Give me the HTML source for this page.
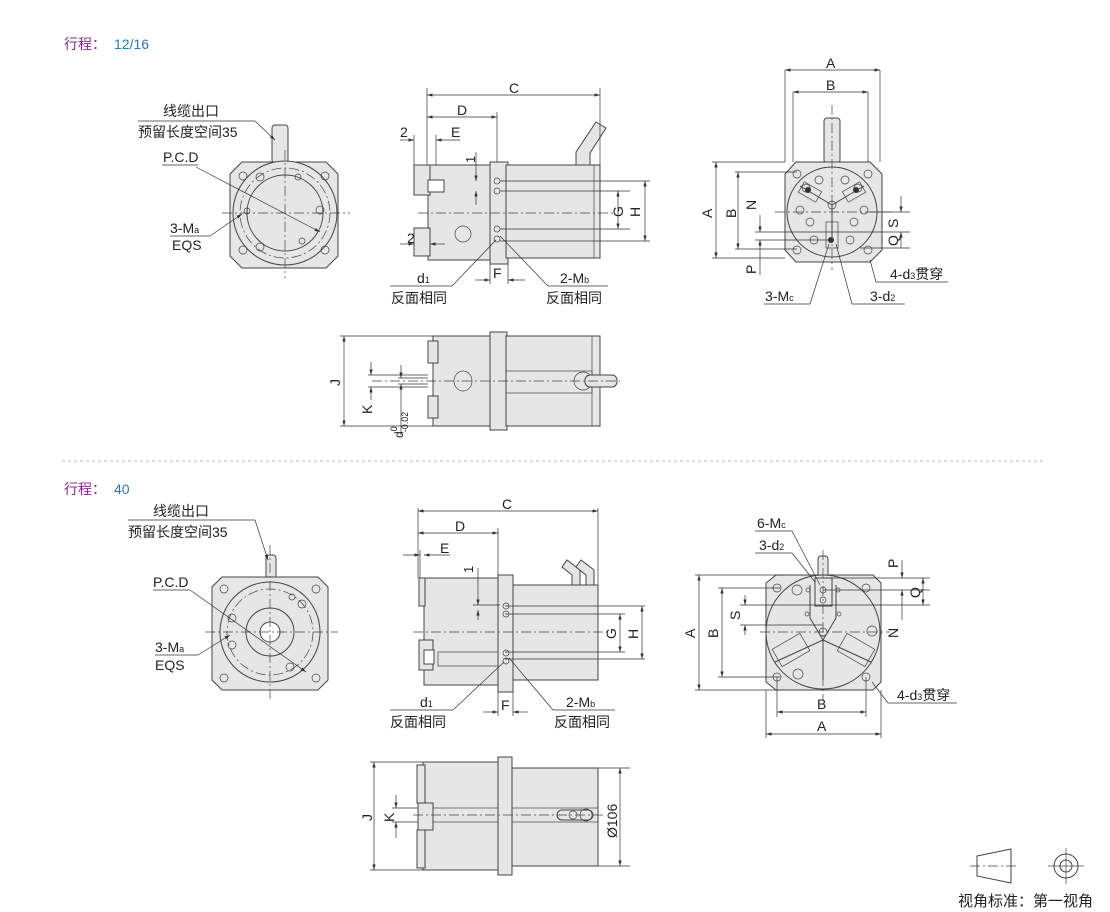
<!DOCTYPE html>
<html><head><meta charset="utf-8"><style>
html,body{margin:0;padding:0;background:#fff;}
svg{display:block;font-family:"Liberation Sans","Noto Sans CJK SC",sans-serif;}
.b{fill:#e6e6e6;stroke:#444;stroke-width:1}
.w{fill:#fff;stroke:#444;stroke-width:1}
.n{fill:none;stroke:#444;stroke-width:1}
.t{fill:none;stroke:#444;stroke-width:.7}
.c{fill:none;stroke:#444;stroke-width:.7;stroke-dasharray:10 3 2 3}
.d{fill:none;stroke:#333;stroke-width:.7}
text{font-size:14px;fill:#222}
.s{font-size:13px}
</style></head><body>
<svg width="1110" height="912" viewBox="0 0 1110 912">
<defs>
<marker id="a" viewBox="0 0 10 6" refX="10" refY="3" markerWidth="8" markerHeight="5" orient="auto-start-reverse"><path d="M0,0L10,3L0,6z" fill="#333"/></marker>
</defs>
<text x="64" y="49" style="fill:#8b2a8b;font-size:14px">行程：</text><text x="114" y="49" style="fill:#2a7ab0;font-size:14px">12/16</text>
<line x1="62" y1="461" x2="1045" y2="461" stroke="#bbb" stroke-dasharray="3 3"/>
<text x="64" y="494" style="fill:#8b2a8b;font-size:14px">行程：</text><text x="114" y="494" style="fill:#2a7ab0;font-size:14px">40</text>

<!-- ===== TOP FRONT VIEW ===== -->
<rect class="b" x="272" y="125" width="16" height="38" rx="3"/>
<path class="b" d="M242,162H326L338,174V256L326,268H242L230,256V174Z"/>
<circle class="w" cx="285" cy="213" r="52" style="fill:#e6e6e6"/>
<circle class="c" cx="285" cy="213" r="45"/>
<circle class="w" cx="285" cy="213" r="38" style="fill:#e6e6e6"/>
<g class="t"><circle cx="243" cy="176" r="4"/><circle cx="325" cy="176" r="4"/><circle cx="243" cy="250" r="4"/><circle cx="325" cy="250" r="4"/>
<circle cx="260" cy="177" r="4"/><circle cx="260" cy="247" r="4"/><circle cx="320" cy="210" r="4"/><circle cx="247" cy="211" r="3"/><circle cx="298" cy="177" r="3"/><circle cx="302" cy="241" r="3"/></g>
<line class="c" x1="222" y1="213" x2="350" y2="213"/><line class="c" x1="285" y1="150" x2="285" y2="278"/>
<line class="d" x1="196" y1="167" x2="320" y2="232" marker-end="url(#a)"/>
<line class="d" x1="162" y1="165" x2="198" y2="165"/>
<text x="163" y="162">P.C.D</text>
<text x="163" y="116">线缆出口</text><text x="138" y="137">预留长度空间35</text>
<line class="d" x1="138" y1="121" x2="255" y2="121"/><line class="d" x1="255" y1="121" x2="275" y2="140" marker-end="url(#a)"/>
<line class="d" x1="170" y1="236" x2="210" y2="236"/><line class="d" x1="210" y1="236" x2="242" y2="214" marker-end="url(#a)"/>
<text x="170" y="233">3-M<tspan class="s" style="font-size:9px">a</tspan></text><text x="172" y="250">EQS</text>

<!-- ===== TOP SIDE VIEW ===== -->
<rect class="b" x="428" y="165" width="64" height="95"/>
<rect class="b" x="490" y="162" width="18" height="102"/>
<rect class="b" x="506" y="165" width="94" height="93"/>
<line class="t" x1="594" y1="165" x2="594" y2="258"/>
<path class="b" d="M576,165V152L596,122L606,128L590,153V165Z"/>
<rect class="b" x="414" y="165" width="16" height="30"/><rect class="w" x="428" y="180" width="16" height="12"/>
<rect class="b" x="414" y="228" width="16" height="28"/>
<circle class="t" cx="463" cy="234" r="8"/>
<g class="t"><circle cx="497" cy="181" r="3"/><circle cx="497" cy="191" r="3"/><circle cx="497" cy="229" r="3"/><circle cx="497" cy="239" r="3"/></g>
<line class="c" x1="418" y1="213" x2="615" y2="213"/>
<g class="d"><line x1="500" y1="181" x2="650" y2="181"/><line x1="500" y1="191" x2="630" y2="191"/><line x1="500" y1="229" x2="630" y2="229"/><line x1="500" y1="241" x2="650" y2="241"/>
<line x1="427" y1="88" x2="427" y2="165"/><line x1="600" y1="88" x2="600" y2="165"/><line x1="497" y1="112" x2="497" y2="162"/>
<line x1="414" y1="135" x2="414" y2="165"/><line x1="436" y1="135" x2="436" y2="165"/>
<line x1="490" y1="264" x2="490" y2="284"/><line x1="508" y1="264" x2="508" y2="284"/></g>
<line class="d" x1="427" y1="95" x2="600" y2="95" marker-start="url(#a)" marker-end="url(#a)"/>
<line class="d" x1="427" y1="117" x2="497" y2="117" marker-start="url(#a)" marker-end="url(#a)"/>
<line class="d" x1="400" y1="140" x2="414" y2="140" marker-end="url(#a)"/><line class="d" x1="460" y1="140" x2="436" y2="140" marker-end="url(#a)"/>
<line class="d" x1="400" y1="244" x2="414" y2="244" marker-end="url(#a)"/><line class="d" x1="445" y1="244" x2="430" y2="244" marker-end="url(#a)"/>
<line class="d" x1="475" y1="280" x2="490" y2="280" marker-end="url(#a)"/><line class="d" x1="525" y1="280" x2="508" y2="280" marker-end="url(#a)"/>
<line class="d" x1="476" y1="152" x2="476" y2="181" marker-end="url(#a)"/><line class="d" x1="476" y1="205" x2="476" y2="191" marker-end="url(#a)"/>
<line class="d" x1="618" y1="191" x2="618" y2="229" marker-start="url(#a)" marker-end="url(#a)"/>
<line class="d" x1="645" y1="181" x2="645" y2="241" marker-start="url(#a)" marker-end="url(#a)"/>
<text x="509" y="93">C</text><text x="457" y="115">D</text><text x="400" y="137">2</text><text x="451" y="137">E</text><text x="407" y="243">2</text><text x="493" y="278">F</text>
<text transform="translate(475,163) rotate(-90)" class="s">1</text>
<text transform="translate(623,217) rotate(-90)">G</text><text transform="translate(640,217) rotate(-90)">H</text>
<line class="d" x1="390" y1="286" x2="452" y2="286"/><line class="d" x1="452" y1="286" x2="496" y2="240"/>
<line class="d" x1="548" y1="286" x2="608" y2="286"/><line class="d" x1="548" y1="286" x2="500" y2="236"/>
<text x="417" y="283">d<tspan style="font-size:9px">1</tspan></text><text x="391" y="303">反面相同</text>
<text x="560" y="283">2-M<tspan style="font-size:9px">b</tspan></text><text x="546" y="303">反面相同</text>

<!-- ===== TOP RIGHT VIEW ===== -->
<rect class="b" x="824" y="118" width="16" height="45" rx="3"/>
<path class="b" d="M796,162H870L882,174V250L870,262H796L785,250V174Z"/>
<circle class="b" cx="832" cy="212" r="45"/>
<g class="t"><circle cx="797" cy="174" r="4"/><circle cx="868" cy="174" r="4"/><circle cx="797" cy="250" r="4"/><circle cx="868" cy="250" r="4"/>
<circle cx="806" cy="188" r="4"/><circle cx="819" cy="180" r="4"/><circle cx="845" cy="180" r="4"/><circle cx="858" cy="188" r="4"/><circle cx="800" cy="210" r="4"/><circle cx="864" cy="210" r="4"/><circle cx="810" cy="222" r="4"/><circle cx="854" cy="222" r="4"/><circle cx="814" cy="240" r="4"/><circle cx="850" cy="240" r="4"/><circle cx="832" cy="205" r="4"/></g>
<path class="n" d="M832,205L800,186M832,205L864,186M832,205V240"/>
<rect class="t" x="800" y="186" width="20" height="12" transform="rotate(30 810 192)"/><rect class="t" x="844" y="186" width="20" height="12" transform="rotate(-30 854 192)"/>
<rect class="t" x="826" y="222" width="12" height="26"/>
<circle cx="808" cy="190" r="3" fill="#333"/><circle cx="856" cy="190" r="3" fill="#333"/><circle cx="831" cy="240" r="3" fill="#333"/>
<line class="c" x1="775" y1="212" x2="890" y2="212"/><line class="c" x1="832" y1="105" x2="832" y2="270"/>
<g class="d"><line x1="785" y1="70" x2="785" y2="162"/><line x1="880" y1="70" x2="880" y2="162"/><line x1="793" y1="92" x2="793" y2="162"/><line x1="868" y1="92" x2="868" y2="162"/>
<line x1="712" y1="162" x2="785" y2="162"/><line x1="712" y1="258" x2="785" y2="258"/><line x1="735" y1="172" x2="797" y2="172"/><line x1="735" y1="249" x2="797" y2="249"/>
<line x1="755" y1="232" x2="830" y2="232"/><line x1="755" y1="240" x2="830" y2="240"/>
<line x1="870" y1="212" x2="910" y2="212"/><line x1="830" y1="232" x2="910" y2="232"/><line x1="860" y1="248" x2="910" y2="248"/></g>
<line class="d" x1="785" y1="70" x2="880" y2="70" marker-start="url(#a)" marker-end="url(#a)"/>
<line class="d" x1="793" y1="92" x2="868" y2="92" marker-start="url(#a)" marker-end="url(#a)"/>
<line class="d" x1="716" y1="162" x2="716" y2="258" marker-start="url(#a)" marker-end="url(#a)"/>
<line class="d" x1="738" y1="172" x2="738" y2="249" marker-start="url(#a)" marker-end="url(#a)"/>
<line class="d" x1="760" y1="215" x2="760" y2="232" marker-end="url(#a)"/><line class="d" x1="760" y1="275" x2="760" y2="240" marker-end="url(#a)"/>
<line class="d" x1="901" y1="196" x2="901" y2="212" marker-end="url(#a)"/><line class="d" x1="901" y1="248" x2="901" y2="232" marker-end="url(#a)"/>
<text x="826" y="68">A</text><text x="826" y="90">B</text>
<text transform="translate(712,218) rotate(-90)">A</text><text transform="translate(736,218) rotate(-90)">B</text><text transform="translate(756,210) rotate(-90)">N</text><text transform="translate(756,274) rotate(-90)">P</text>
<text transform="translate(898,228) rotate(-90)">S</text><text transform="translate(898,246) rotate(-90)">Q</text>
<line class="d" x1="876" y1="282" x2="948" y2="282"/><line class="d" x1="876" y1="282" x2="870" y2="260"/>
<text x="890" y="279">4-d<tspan style="font-size:9px">3</tspan>贯穿</text>
<line class="d" x1="764" y1="304" x2="810" y2="304"/><line class="d" x1="810" y1="304" x2="829" y2="244"/>
<line class="d" x1="852" y1="304" x2="905" y2="304"/><line class="d" x1="852" y1="304" x2="836" y2="244"/>
<text x="765" y="301">3-M<tspan style="font-size:9px">c</tspan></text><text x="870" y="301">3-d<tspan style="font-size:9px">2</tspan></text>

<!-- ===== TOP BOTTOM VIEW ===== -->
<rect class="b" x="433" y="336" width="60" height="90"/>
<rect class="b" x="490" y="332" width="17" height="98"/>
<rect class="b" x="506" y="336" width="94" height="90"/>
<line class="t" x1="592" y1="336" x2="592" y2="426"/>
<rect class="b" x="428" y="341" width="10" height="22"/><rect class="b" x="428" y="396" width="10" height="22"/>
<rect class="t" x="506" y="371" width="86" height="22"/>
<ellipse class="t" cx="463" cy="381" rx="9" ry="10"/>
<circle class="t" cx="583" cy="381" r="9"/><rect class="b" x="585" y="375" width="32" height="12" rx="5"/>
<line class="c" x1="372" y1="381" x2="620" y2="381"/>
<g class="d"><line x1="340" y1="336" x2="433" y2="336"/><line x1="340" y1="426" x2="433" y2="426"/><line x1="368" y1="375" x2="428" y2="375"/><line x1="368" y1="387" x2="428" y2="387"/><line x1="398" y1="378" x2="428" y2="378"/><line x1="398" y1="384" x2="428" y2="384"/></g>
<line class="d" x1="344" y1="336" x2="344" y2="426" marker-start="url(#a)" marker-end="url(#a)"/>
<line class="d" x1="371" y1="362" x2="371" y2="375" marker-end="url(#a)"/><line class="d" x1="371" y1="400" x2="371" y2="387" marker-end="url(#a)"/>
<line class="d" x1="401" y1="365" x2="401" y2="378" marker-end="url(#a)"/><line class="d" x1="401" y1="435" x2="401" y2="384" marker-end="url(#a)"/>
<text transform="translate(340,386) rotate(-90)">J</text><text transform="translate(372,414) rotate(-90)">K</text>
<text transform="translate(403,438) rotate(-90)" style="font-size:12px">d<tspan style="font-size:9px" dy="-6">0</tspan><tspan style="font-size:9px" dx="-6" dy="11">-0.02</tspan></text>

<!-- ===== BOTTOM FRONT VIEW ===== -->
<rect class="b" x="266" y="555" width="10" height="25" rx="3"/>
<path class="b" d="M222,577H318L328,587V680L318,690H222L212,680V587Z"/>
<circle class="b" cx="270" cy="632" r="50"/>
<circle class="c" cx="270" cy="632" r="43"/>
<circle class="w" cx="270" cy="632" r="24" style="fill:#e6e6e6"/>
<circle class="w" cx="270" cy="632" r="10"/>
<g class="t"><circle cx="224" cy="589" r="4"/><circle cx="316" cy="589" r="4"/><circle cx="224" cy="678" r="4"/><circle cx="316" cy="678" r="4"/>
<circle cx="232" cy="618" r="4"/><circle cx="232" cy="645" r="4"/><circle cx="302" cy="604" r="4"/><circle cx="290" cy="667" r="4"/><circle cx="292" cy="597" r="3"/></g>
<line class="c" x1="205" y1="632" x2="338" y2="632"/><line class="c" x1="270" y1="545" x2="270" y2="700"/>
<line class="d" x1="153" y1="590" x2="190" y2="590"/><line class="d" x1="190" y1="590" x2="306" y2="672" marker-end="url(#a)"/>
<text x="153" y="587">P.C.D</text>
<text x="153" y="516">线缆出口</text><text x="128" y="537">预留长度空间35</text>
<line class="d" x1="128" y1="520" x2="255" y2="520"/><line class="d" x1="255" y1="520" x2="268" y2="560" marker-end="url(#a)"/>
<line class="d" x1="155" y1="655" x2="198" y2="655"/><line class="d" x1="198" y1="655" x2="230" y2="635" marker-end="url(#a)"/>
<text x="155" y="652">3-M<tspan style="font-size:9px">a</tspan></text><text x="155" y="670">EQS</text>

<!-- ===== BOTTOM SIDE VIEW ===== -->
<rect class="b" x="424" y="578" width="76" height="107"/>
<rect class="b" x="498" y="575" width="15" height="117"/>
<rect class="b" x="513" y="585" width="85" height="95"/>
<rect class="b" x="419" y="578" width="6" height="28"/><rect class="b" x="419" y="640" width="14" height="30"/><rect class="w" x="424" y="650" width="10" height="14"/>
<rect class="t" x="438" y="652" width="60" height="14"/>
<path class="b" d="M572,585V575L562,567L567,560L580,570V585Z"/><path class="b" d="M586,585V575L576,567L581,560L594,570V585Z"/>
<g class="t"><circle cx="506" cy="606" r="3"/><circle cx="506" cy="614" r="3"/><circle cx="506" cy="653" r="3"/><circle cx="506" cy="661" r="3"/></g>
<line class="c" x1="413" y1="632" x2="610" y2="632"/>
<g class="d"><line x1="418" y1="508" x2="418" y2="578"/><line x1="598" y1="508" x2="598" y2="585"/><line x1="498" y1="528" x2="498" y2="575"/><line x1="420" y1="550" x2="420" y2="578"/>
<line x1="505" y1="606" x2="645" y2="606"/><line x1="505" y1="614" x2="625" y2="614"/><line x1="505" y1="652" x2="625" y2="652"/><line x1="505" y1="659" x2="645" y2="659"/>
<line x1="498" y1="692" x2="498" y2="716"/><line x1="513" y1="692" x2="513" y2="716"/><line x1="473" y1="605" x2="500" y2="605"/></g>
<line class="d" x1="418" y1="511" x2="598" y2="511" marker-start="url(#a)" marker-end="url(#a)"/>
<line class="d" x1="418" y1="533" x2="498" y2="533" marker-start="url(#a)" marker-end="url(#a)"/>
<line class="d" x1="403" y1="555" x2="420" y2="555" marker-end="url(#a)"/><line class="d" x1="450" y1="555" x2="424" y2="555" marker-end="url(#a)"/>
<line class="d" x1="483" y1="712" x2="498" y2="712" marker-end="url(#a)"/><line class="d" x1="528" y1="712" x2="513" y2="712" marker-end="url(#a)"/>
<line class="d" x1="478" y1="568" x2="478" y2="605" marker-end="url(#a)"/><line class="d" x1="478" y1="620" x2="478" y2="610" marker-end="url(#a)"/>
<line class="d" x1="620" y1="614" x2="620" y2="652" marker-start="url(#a)" marker-end="url(#a)"/>
<line class="d" x1="642" y1="606" x2="642" y2="659" marker-start="url(#a)" marker-end="url(#a)"/>
<text x="502" y="509">C</text><text x="455" y="531">D</text><text x="440" y="553">E</text><text x="501" y="710">F</text>
<text transform="translate(473,573) rotate(-90)" class="s">1</text>
<text transform="translate(616,639) rotate(-90)">G</text><text transform="translate(638,639) rotate(-90)">H</text>
<line class="d" x1="390" y1="710" x2="453" y2="710"/><line class="d" x1="453" y1="710" x2="504" y2="662"/>
<line class="d" x1="553" y1="710" x2="615" y2="710"/><line class="d" x1="553" y1="710" x2="509" y2="658"/>
<text x="420" y="707">d<tspan style="font-size:9px">1</tspan></text><text x="390" y="727">反面相同</text>
<text x="566" y="707">2-M<tspan style="font-size:9px">b</tspan></text><text x="554" y="727">反面相同</text>

<!-- ===== BOTTOM RIGHT VIEW ===== -->
<rect class="b" x="818" y="556" width="10" height="22" rx="3"/>
<path class="b" d="M776,575H873L881,583V682L873,690H776L766,682V583Z"/>
<circle class="b" cx="823" cy="632" r="57"/>
<rect class="w" x="815" y="578" width="17" height="28" style="fill:#e6e6e6"/>
<path class="n" d="M810,585V618L823,640L836,618V585M823,640V680M823,640L775,662M823,640L871,662"/>
<rect class="t" x="775" y="640" width="32" height="20" transform="rotate(-30 791 650)"/><rect class="t" x="840" y="640" width="32" height="20" transform="rotate(30 856 650)"/>
<g class="t"><circle cx="777" cy="588" r="4"/><circle cx="866" cy="588" r="4"/><circle cx="777" cy="677" r="4"/><circle cx="866" cy="677" r="4"/>
<circle cx="797" cy="590" r="5"/><circle cx="872" cy="631" r="5"/><circle cx="798" cy="674" r="5"/><circle cx="823" cy="632" r="4"/>
<circle cx="808" cy="590" r="2"/><circle cx="838" cy="590" r="2"/><circle cx="807" cy="614" r="2"/><circle cx="839" cy="614" r="2"/><circle cx="823" cy="590" r="3"/><circle cx="823" cy="600" r="3"/></g>
<line class="c" x1="760" y1="632" x2="890" y2="632"/><line class="c" x1="823" y1="550" x2="823" y2="700"/>
<g class="d"><line x1="695" y1="575" x2="785" y2="575"/><line x1="695" y1="690" x2="785" y2="690"/><line x1="718" y1="588" x2="780" y2="588"/><line x1="718" y1="677" x2="780" y2="677"/>
<line x1="740" y1="605" x2="823" y2="605"/><line x1="740" y1="625" x2="823" y2="625"/>
<line x1="826" y1="578" x2="930" y2="578"/><line x1="823" y1="590" x2="930" y2="590"/><line x1="823" y1="605" x2="930" y2="605"/>
<line x1="766" y1="690" x2="766" y2="738"/><line x1="881" y1="690" x2="881" y2="738"/><line x1="777" y1="677" x2="777" y2="717"/><line x1="866" y1="677" x2="866" y2="717"/></g>
<line class="d" x1="699" y1="575" x2="699" y2="690" marker-start="url(#a)" marker-end="url(#a)"/>
<line class="d" x1="722" y1="588" x2="722" y2="677" marker-start="url(#a)" marker-end="url(#a)"/>
<line class="d" x1="745" y1="595" x2="745" y2="605" marker-end="url(#a)"/><line class="d" x1="745" y1="635" x2="745" y2="625" marker-end="url(#a)"/>
<line class="d" x1="902" y1="560" x2="902" y2="578" marker-end="url(#a)"/><line class="d" x1="902" y1="620" x2="902" y2="590" marker-end="url(#a)"/>
<line class="d" x1="923" y1="578" x2="923" y2="605" marker-start="url(#a)" marker-end="url(#a)"/>
<line class="d" x1="766" y1="734" x2="881" y2="734" marker-start="url(#a)" marker-end="url(#a)"/>
<line class="d" x1="777" y1="712" x2="866" y2="712" marker-start="url(#a)" marker-end="url(#a)"/>
<text transform="translate(695,638) rotate(-90)">A</text><text transform="translate(718,638) rotate(-90)">B</text><text transform="translate(740,620) rotate(-90)">S</text>
<text transform="translate(898,568) rotate(-90)">P</text><text transform="translate(920,598) rotate(-90)">Q</text><text transform="translate(898,638) rotate(-90)">N</text>
<text x="817" y="709">B</text><text x="817" y="731">A</text>
<line class="d" x1="755" y1="531" x2="792" y2="531"/><line class="d" x1="792" y1="531" x2="820" y2="585"/>
<line class="d" x1="755" y1="553" x2="792" y2="553"/><line class="d" x1="792" y1="553" x2="815" y2="582"/>
<text x="757" y="528">6-M<tspan style="font-size:9px">c</tspan></text><text x="759" y="550">3-d<tspan style="font-size:9px">2</tspan></text>
<line class="d" x1="888" y1="703" x2="957" y2="703"/><line class="d" x1="888" y1="703" x2="872" y2="682"/>
<text x="897" y="700">4-d<tspan style="font-size:9px">3</tspan>贯穿</text>

<!-- ===== BOTTOM BOTTOM VIEW ===== -->
<rect class="b" x="423" y="762" width="77" height="108"/>
<rect class="b" x="498" y="757" width="14" height="118"/>
<rect class="b" x="512" y="768" width="86" height="98"/>
<rect class="b" x="417" y="765" width="8" height="38"/><rect class="b" x="417" y="830" width="8" height="38"/>
<rect class="b" x="418" y="803" width="15" height="27"/>
<rect class="t" x="433" y="808" width="65" height="14"/><rect class="t" x="512" y="808" width="86" height="14"/>
<rect class="b" x="557" y="810" width="36" height="10" rx="5"/><circle class="t" cx="586" cy="815" r="6"/><circle class="t" cx="573" cy="815" r="4"/>
<line class="c" x1="413" y1="815" x2="605" y2="815"/>
<g class="d"><line x1="370" y1="762" x2="423" y2="762"/><line x1="370" y1="870" x2="423" y2="870"/><line x1="392" y1="808" x2="418" y2="808"/><line x1="392" y1="822" x2="418" y2="822"/>
<line x1="598" y1="768" x2="630" y2="768"/><line x1="598" y1="866" x2="630" y2="866"/></g>
<line class="d" x1="374" y1="762" x2="374" y2="870" marker-start="url(#a)" marker-end="url(#a)"/>
<line class="d" x1="396" y1="795" x2="396" y2="808" marker-end="url(#a)"/><line class="d" x1="396" y1="838" x2="396" y2="822" marker-end="url(#a)"/>
<line class="d" x1="620" y1="768" x2="620" y2="866" marker-start="url(#a)" marker-end="url(#a)"/>
<text transform="translate(372,821) rotate(-90)">J</text><text transform="translate(394,822) rotate(-90)">K</text>
<text transform="translate(617,838) rotate(-90)">Ø106</text>

<!-- ===== Projection symbol ===== -->
<path class="n" d="M977,856L1011,849V883L977,876Z"/>
<line class="c" x1="970" y1="866" x2="1018" y2="866"/>
<circle class="n" cx="1066" cy="866" r="12"/><circle class="n" cx="1066" cy="866" r="6"/>
<line class="t" x1="1048" y1="866" x2="1084" y2="866"/><line class="t" x1="1066" y1="848" x2="1066" y2="884"/>
<text x="958" y="906" style="font-size:15px">视角标准：第一视角</text>
</svg>
</body></html>
